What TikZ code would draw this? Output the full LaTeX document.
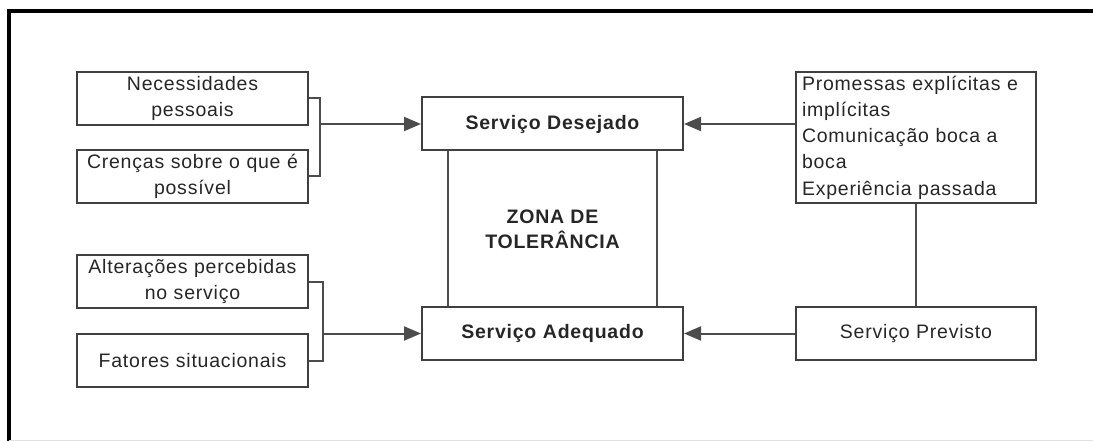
\documentclass[tikz,border=0pt]{standalone}
\usepackage{fontspec}
\setmainfont{Liberation Sans}[LetterSpace=4]
\usetikzlibrary{calc,arrows.meta}

\begin{document}
\begin{tikzpicture}[x=1pt,y=-1pt]

    % Diagram style
    \tikzset{
        box/.style={draw=black!75, line width=2pt, minimum height=53pt,
            inner sep=0pt, align=center, text=black!85,
            font=\fontsize{19.5}{26.3}\selectfont},
        leftbox/.style={box, minimum width=231pt, text width=231pt},
        midbox/.style={box, minimum width=261pt, text width=261pt,
            font=\fontsize{19.5}{26.3}\selectfont\bfseries},
        link/.style={draw=black!70, line width=2pt},
        toarrow/.style={link, -{Triangle[length=17pt,width=14pt]}}
    }

    \useasboundingbox (0,0) rectangle (1093,441);

    % Frame
    \draw[line width=4pt] (9,441) -- (9,11) -- (1093,11);
    \draw[black!12, line width=1pt] (9,440) -- (1093,440);

    % Boxes
    \node[leftbox] (nec) at (192.5,98.5) {Necessidades\\pessoais};
    \node[leftbox] (cre) at (192.5,176.5) {Crenças sobre o que é\\possível};
    \node[leftbox] (alt) at (192.5,281.5) {Alterações percebidas\\no serviço};
    \node[leftbox] (fat) at (192.5,360.5) {Fatores situacionais};
    \node[midbox] (des) at (552.5,124) {Serviço Desejado};
    \node[midbox] (ade) at (552.5,333.5) {Serviço Adequado};
    \node[box, minimum width=240pt, minimum height=131pt, text width=228pt,
        align=left] (pro) at (916,137.5)
        {Promessas explícitas e\\implícitas\\Comunicação boca a\\boca\\Experiência passada};
    \node[box, minimum width=240pt, text width=240pt] (pre) at (916,333.5) {Serviço Previsto};
    \node[font=\fontsize{19.5}{25}\selectfont\bfseries, align=center, text=black!85]
        (zona) at (552.5,229) {ZONA DE\\TOLERÂNCIA};

    % Junctions
    \coordinate (j1) at (320,124);
    \coordinate (j2) at (323,333.5);

    % Connectors
    \draw[link] (nec.east) -| (j1) |- (cre.east);
    \draw[toarrow] (j1) -- (des.west);
    \draw[link] (alt.east) -| (j2) |- (fat.east);
    \draw[toarrow] (j2) -- (ade.west);
    \draw[toarrow] (pro.west |- des.east) -- (des.east);
    \draw[toarrow] (pre.west) -- (ade.east);
    \draw[link] (pro.south) -- (pre.north);
    \draw[link] ($(des.south west)+(27,0)$) -- ($(ade.north west)+(27,0)$);
    \draw[link] ($(des.south east)+(-27,0)$) -- ($(ade.north east)+(-27,0)$);
\end{tikzpicture}
\end{document}
